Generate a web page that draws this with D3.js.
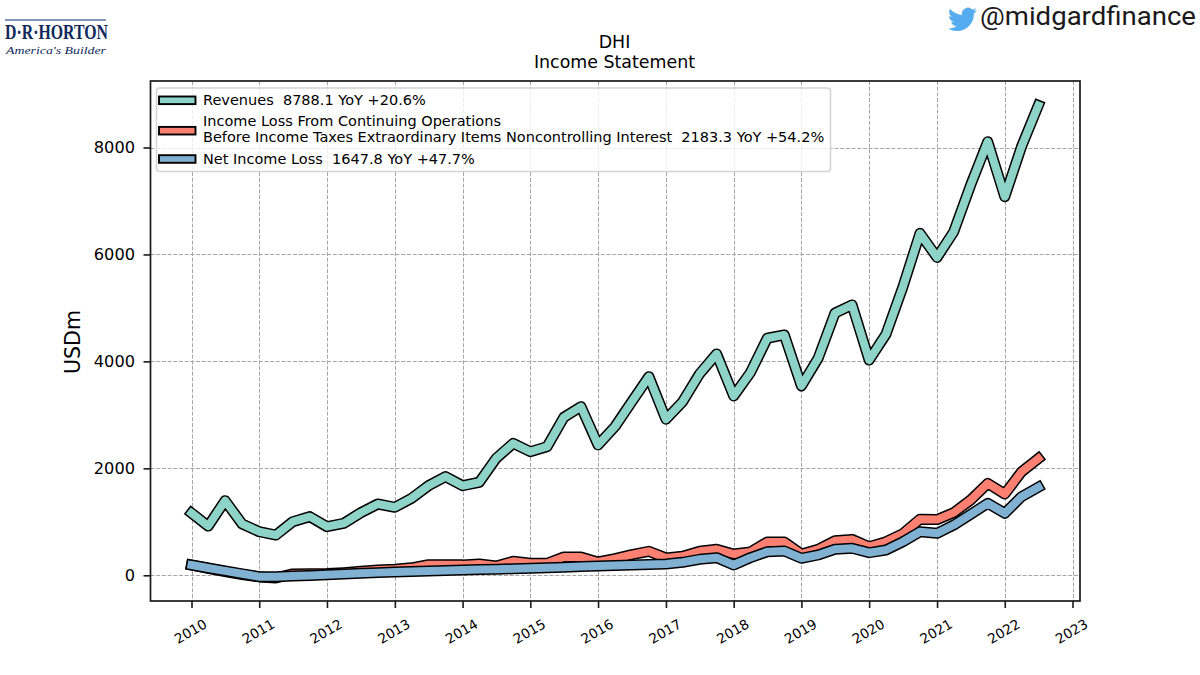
<!DOCTYPE html>
<html>
<head>
<meta charset="utf-8">
<title>DHI Income Statement</title>
<script src="https://d3js.org/d3.v7.min.js"></script>
<style>
  html, body { margin: 0; padding: 0; background: #fff; }
  svg { display: block; }
  text { font-family: "DejaVu Sans", sans-serif; fill: #000; white-space: pre; }
</style>
</head>
<body>
<svg id="chart" width="1200" height="675"></svg>
<script>
// Quarterly reporting dates, 2010 Q1 through 2022 Q3
const startYear = 2010;
const quarterCount = 51;
const quarters = d3.range(quarterCount).map(i =>
  new Date(startYear + Math.floor(i / 4), (i % 4) * 3, 1));

// USD millions per quarter
const revenues = [
  1165, 920, 1395, 960, 815, 753, 1003, 1097, 910, 973, 1170, 1333, 1272,
  1440, 1675, 1845, 1675, 1740, 2188, 2468, 2312, 2405, 2955, 3153, 2437,
  2780, 3247, 3715, 2918, 3247, 3765, 4140, 3353, 3790, 4433, 4495, 3540,
  4058, 4905, 5055, 4025, 4510, 5395, 6395, 5945, 6425, 7297, 8108, 7080,
  8015, 8788.1
];
const pretaxIncome = [
  192, 130, 70, 15, -30, -50, 25, 30, 32, 50, 75, 100, 112,
  140, 198, 198, 195, 211, 174, 262, 224, 224, 342, 342, 249,
  311, 386, 449, 324, 355, 449, 486, 398, 436, 623, 623, 398,
  486, 647, 672, 535, 628, 780, 1050, 1042, 1172, 1408, 1718, 1520,
  1933, 2183.3
];
const netIncome = [
  192, 137, 83, 28, -26, -26, -13, -2, 11, 24, 37, 50, 62,
  72, 82, 90, 99, 107, 115, 122, 130, 141, 152, 163, 174,
  183, 192, 202, 211, 243, 299, 330, 193, 330, 441, 455, 318,
  380, 486, 505, 423, 473, 628, 815, 785, 940, 1140, 1346, 1159,
  1470, 1647.8
];

const seriesColors = ["#8dd3c7", "#fb8072", "#80b1d3"];
const legendLines = [
  ["Revenues  8788.1 YoY +20.6%"],
  ["Income Loss From Continuing Operations",
   "Before Income Taxes Extraordinary Items Noncontrolling Interest  2183.3 YoY +54.2%"],
  ["Net Income Loss  1647.8 YoY +47.7%"]
];
const yearTicks = d3.range(2010, 2024);
const valueTicks = [0, 2000, 4000, 6000, 8000];
const titleLines = ["DHI", "Income Statement"];

const frame = { left: 150.5, right: 1080, top: 81, bottom: 601 };

const svg = d3.select("#chart");

const x = d3.scaleTime()
  .domain([new Date(2010, 0, 1), new Date(2023, 0, 1)])
  .range([191.5, 1072.5]);
const y = d3.scaleLinear().domain([0, 8000]).range([575.3, 147.5]);

// Dashed grid
const grid = svg.append("g")
  .attr("stroke", "#a6a6a6").attr("stroke-width", 1)
  .attr("stroke-dasharray", "4,1.7");
yearTicks.forEach(yr => {
  const px = Math.round(x(new Date(yr, 0, 1))) + 0.5;
  grid.append("line").attr("x1", px).attr("x2", px)
    .attr("y1", frame.top).attr("y2", frame.bottom);
});
valueTicks.forEach(v => {
  const py = Math.round(y(v)) + 0.5;
  grid.append("line").attr("y1", py).attr("y2", py)
    .attr("x1", frame.left).attr("x2", frame.right);
});

// Each series is a thick black stroke with a narrower coloured stroke over it
const line = d3.line().x((d, i) => x(quarters[i])).y(d => y(d));
[revenues, pretaxIncome, netIncome].forEach((values, i) => {
  [["#000", 11], [seriesColors[i], 8]].forEach(([color, width]) => {
    svg.append("path")
      .attr("d", line(values))
      .attr("fill", "none")
      .attr("stroke", color)
      .attr("stroke-width", width)
      .attr("stroke-linejoin", "round")
      .attr("stroke-linecap", "square");
  });
});

// Plot frame
svg.append("rect")
  .attr("x", frame.left).attr("y", frame.top)
  .attr("width", frame.right - frame.left).attr("height", frame.bottom - frame.top)
  .attr("fill", "none").attr("stroke", "#1a1a1a").attr("stroke-width", 1.7);

// Axes
const xAxis = svg.append("g")
  .attr("transform", `translate(0,${frame.bottom})`)
  .call(d3.axisBottom(x)
    .tickValues(yearTicks.map(yr => new Date(yr, 0, 1)))
    .tickFormat(d3.timeFormat("%Y"))
    .tickSize(7).tickPadding(5));
xAxis.select(".domain").remove();
xAxis.selectAll("line").attr("stroke", "#1a1a1a").attr("stroke-width", 1.6);
xAxis.selectAll("text")
  .style("font-family", '"DejaVu Sans"')
  .style("font-size", "13.6px")
  .attr("text-anchor", "middle")
  .attr("dy", null)
  .attr("y", 0)
  .attr("transform", "translate(1,34.5) rotate(-30)");

const yAxis = svg.append("g")
  .attr("transform", `translate(${frame.left},0)`)
  .call(d3.axisLeft(y).tickValues(valueTicks).tickFormat(d3.format("d"))
    .tickSize(7).tickPadding(8.5));
yAxis.select(".domain").remove();
yAxis.selectAll("line").attr("stroke", "#1a1a1a").attr("stroke-width", 1.6);
yAxis.selectAll("text")
  .style("font-family", '"DejaVu Sans"')
  .style("font-size", "16.2px");

svg.append("text")
  .attr("transform", "translate(79.5,342) rotate(-90)")
  .attr("text-anchor", "middle")
  .style("font-size", "20.6px")
  .text("USDm");

// Two-line title
svg.append("g").selectAll("text").data(titleLines).join("text")
  .attr("x", 614.5)
  .attr("y", (d, i) => 47.5 + i * 20)
  .attr("text-anchor", "middle")
  .style("font-size", "17.4px")
  .text(d => d);

// Legend
const legend = svg.append("g");
legend.append("rect")
  .attr("x", 156.5).attr("y", 88).attr("width", 674).attr("height", 83.5)
  .attr("rx", 3).attr("ry", 3)
  .attr("fill", "#fff").attr("fill-opacity", 0.8)
  .attr("stroke", "#d3d3d3").attr("stroke-width", 1.5);
const legendRows = [
  { swatch: 100.3, baselines: [105] },
  { swatch: 130.7, baselines: [125.7, 141.7] },
  { swatch: 159, baselines: [163.5] }
];
legendRows.forEach((row, i) => {
  legend.append("rect")
    .attr("x", 159).attr("y", row.swatch - 3.8)
    .attr("width", 36.5).attr("height", 7.6)
    .attr("fill", seriesColors[i])
    .attr("stroke", "#000").attr("stroke-width", 1.9);
  row.baselines.forEach((base, j) => {
    legend.append("text")
      .attr("x", 203).attr("y", base)
      .style("font-size", "14.5px")
      .text(legendLines[i][j]);
  });
});

// Company wordmark
const brand = svg.append("g");
brand.append("rect").attr("x", 5).attr("y", 19).attr("width", 101).attr("height", 2)
  .style("fill", "#8194b5");
brand.append("text")
  .attr("x", 5).attr("y", 39)
  .attr("textLength", 103).attr("lengthAdjust", "spacingAndGlyphs")
  .style("font-family", '"Liberation Serif", serif')
  .style("font-weight", "700")
  .style("font-size", "22px")
  .style("fill", "#10295a")
  .text("D·R·HORTON");
brand.append("text")
  .attr("x", 6).attr("y", 54)
  .attr("textLength", 100).attr("lengthAdjust", "spacingAndGlyphs")
  .style("font-family", '"Liberation Serif", serif')
  .style("font-style", "italic")
  .style("font-size", "11px")
  .style("fill", "#10295a")
  .text("America's Builder");

// Social handle with bird icon
svg.append("path")
  .attr("transform", "translate(948,5) scale(1.2)")
  .attr("fill", "#55acee")
  .attr("d", "M23.953 4.57a10 10 0 01-2.825.775 4.958 4.958 0 002.163-2.723c-.951.555-2.005.959-3.127 1.184a4.92 4.92 0 00-8.384 4.482C7.69 8.095 4.067 6.13 1.64 3.162a4.822 4.822 0 00-.666 2.475c0 1.71.87 3.213 2.188 4.096a4.904 4.904 0 01-2.228-.616v.06a4.923 4.923 0 003.946 4.827 4.996 4.996 0 01-2.212.085 4.936 4.936 0 004.604 3.417 9.867 9.867 0 01-6.102 2.105c-.39 0-.779-.023-1.17-.067a13.995 13.995 0 007.557 2.209c9.053 0 13.998-7.496 13.998-13.985 0-.21 0-.42-.015-.63A9.935 9.935 0 0024 4.59z");
svg.append("text")
  .attr("x", 980).attr("y", 24.6)
  .attr("textLength", 216).attr("lengthAdjust", "spacingAndGlyphs")
  .style("font-family", "Roboto, sans-serif")
  .style("font-size", "26.5px")
  .style("fill", "#1a1a1a")
  .text("@midgardfinance");
</script>
</body>
</html>
